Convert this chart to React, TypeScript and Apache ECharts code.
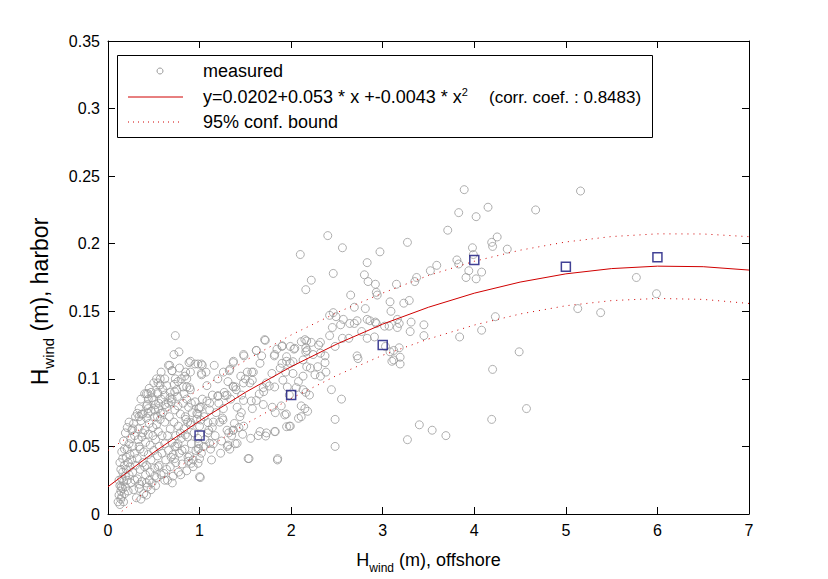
import React, { useEffect, useRef } from "react";
import * as echarts from "echarts";

const FONT = 'Arial, "Liberation Sans", Helvetica, sans-serif';

// Axis ranges / ticks
const xRange = [0, 7];
const yRange = [0, 0.35];
const xInterval = 1;
const yInterval = 0.05;

// Measured points: dense cloud near the origin (x < 1)
const measuredCluster: number[][] = [
  [0.11, 0.009], [0.12, 0.014], [0.13, 0.007], [0.13, 0.021], [0.14, 0.011], [0.14, 0.017], [0.15, 0.026], [0.15, 0.013],
  [0.16, 0.019], [0.16, 0.031], [0.17, 0.009], [0.17, 0.024], [0.18, 0.015], [0.18, 0.036], [0.19, 0.028], [0.19, 0.02],
  [0.2, 0.042], [0.2, 0.033], [0.21, 0.025], [0.21, 0.048], [0.22, 0.038], [0.22, 0.017], [0.23, 0.052], [0.23, 0.029],
  [0.24, 0.044], [0.24, 0.035], [0.25, 0.056], [0.25, 0.023], [0.26, 0.04], [0.26, 0.062], [0.27, 0.031], [0.27, 0.05],
  [0.28, 0.067], [0.28, 0.018], [0.29, 0.045], [0.29, 0.058], [0.3, 0.036], [0.3, 0.072], [0.12, 0.025], [0.14, 0.033],
  [0.16, 0.041], [0.18, 0.048], [0.13, 0.038], [0.15, 0.046], [0.17, 0.054], [0.19, 0.06], [0.21, 0.064], [0.23, 0.068],
  [0.31, 0.012], [0.32, 0.026], [0.32, 0.041], [0.33, 0.055], [0.33, 0.063], [0.34, 0.019], [0.34, 0.078], [0.35, 0.033],
  [0.35, 0.048], [0.36, 0.069], [0.36, 0.085], [0.37, 0.024], [0.37, 0.057], [0.38, 0.038], [0.38, 0.074], [0.39, 0.015],
  [0.39, 0.046], [0.4, 0.062], [0.4, 0.089], [0.41, 0.029], [0.41, 0.053], [0.42, 0.071], [0.42, 0.036], [0.43, 0.081],
  [0.43, 0.02], [0.44, 0.044], [0.44, 0.059], [0.45, 0.067], [0.45, 0.093], [0.46, 0.031], [0.46, 0.051], [0.47, 0.076],
  [0.47, 0.04], [0.48, 0.086], [0.48, 0.023], [0.49, 0.058], [0.49, 0.064], [0.5, 0.047], [0.5, 0.097], [0.51, 0.034],
  [0.51, 0.072], [0.52, 0.055], [0.52, 0.081], [0.53, 0.027], [0.53, 0.066], [0.54, 0.043], [0.54, 0.09], [0.55, 0.061],
  [0.55, 0.078], [0.56, 0.036], [0.56, 0.05], [0.57, 0.07], [0.57, 0.1], [0.58, 0.029], [0.58, 0.085], [0.59, 0.058],
  [0.59, 0.045], [0.6, 0.075], [0.6, 0.092], [0.36, 0.011], [0.42, 0.014], [0.47, 0.018], [0.52, 0.021], [0.34, 0.05],
  [0.38, 0.06], [0.44, 0.078], [0.5, 0.084], [0.54, 0.072], [0.4, 0.035], [0.45, 0.025],
  [0.44, 0.085], [0.47, 0.09], [0.53, 0.1], [0.58, 0.105], [0.62, 0.1], [0.64, 0.095], [0.66, 0.11], [0.7, 0.106],
  [0.72, 0.118], [0.78, 0.108], [0.8, 0.1], [0.82, 0.094], [0.86, 0.1], [0.9, 0.105], [0.68, 0.09], [0.62, 0.088],
  [0.75, 0.092], [0.7, 0.085], [0.66, 0.082],
  [0.61, 0.03], [0.62, 0.052], [0.62, 0.068], [0.63, 0.04], [0.64, 0.079], [0.65, 0.025], [0.65, 0.058], [0.66, 0.047],
  [0.67, 0.072], [0.68, 0.035], [0.68, 0.063], [0.69, 0.083], [0.7, 0.053], [0.71, 0.028], [0.71, 0.044], [0.72, 0.068],
  [0.73, 0.077], [0.74, 0.038], [0.74, 0.058], [0.75, 0.05], [0.76, 0.087], [0.77, 0.031], [0.77, 0.065], [0.78, 0.045],
  [0.79, 0.074], [0.8, 0.056], [0.81, 0.037], [0.82, 0.082], [0.83, 0.063], [0.84, 0.048], [0.85, 0.07], [0.86, 0.032],
  [0.87, 0.057], [0.88, 0.079], [0.89, 0.043], [0.9, 0.066], [0.91, 0.052], [0.92, 0.075], [0.93, 0.035], [0.94, 0.06],
  [0.95, 0.083], [0.96, 0.047], [0.97, 0.07], [0.98, 0.056], [0.99, 0.078], [0.64, 0.033], [0.69, 0.042], [0.73, 0.05],
  [0.79, 0.06], [0.87, 0.068],
];

// Measured points: 0.15 < x < 2.2
const measuredMid: number[][] = [
  [0.735, 0.132], [0.775, 0.12], [0.885, 0.112], [0.983, 0.111], [1.03, 0.11], [1.023, 0.103], [0.674, 0.11], [0.699, 0.106],
  [0.848, 0.105], [0.838, 0.102], [0.735, 0.1], [0.764, 0.098], [0.724, 0.096], [0.546, 0.097], [0.568, 0.0955], [0.437, 0.089],
  [0.42, 0.089], [0.546, 0.089], [0.859, 0.094], [0.83, 0.089], [0.892, 0.0935], [0.728, 0.0905], [0.677, 0.086], [0.859, 0.085],
  [0.422, 0.08], [0.553, 0.082], [0.622, 0.081], [0.764, 0.08], [0.575, 0.0745], [0.32, 0.0745], [0.339, 0.072], [0.364, 0.0738],
  [0.51, 0.077], [0.437, 0.0745], [0.27, 0.063], [0.844, 0.072], [0.906, 0.0676], [0.98, 0.0738], [1.016, 0.079], [1.081, 0.0836],
  [1.012, 0.0696], [1.092, 0.0676], [1.139, 0.064], [1.201, 0.0876], [1.278, 0.0876], [1.368, 0.112], [1.485, 0.117], [1.325, 0.106],
  [1.365, 0.0945], [1.394, 0.094], [1.521, 0.105], [1.587, 0.105], [1.619, 0.121], [1.678, 0.117], [1.718, 0.1285], [1.816, 0.117],
  [1.845, 0.122], [1.903, 0.1245], [1.991, 0.124], [2.031, 0.122], [2.111, 0.1275], [2.17, 0.128], [2.173, 0.121], [1.499, 0.1],
  [1.576, 0.099], [1.696, 0.0935], [1.761, 0.0947], [1.652, 0.0888], [1.565, 0.0836], [1.696, 0.081], [1.576, 0.078], [1.456, 0.075],
  [1.794, 0.079], [1.827, 0.075], [1.892, 0.08], [1.98, 0.088], [2.056, 0.0935], [1.958, 0.094], [1.482, 0.065], [1.365, 0.062],
  [1.256, 0.0696], [1.318, 0.06], [1.39, 0.052], [1.303, 0.05], [1.558, 0.056], [1.66, 0.061], [1.722, 0.0577], [1.827, 0.061],
  [1.54, 0.041], [1.853, 0.041], [1.947, 0.074], [1.991, 0.065], [0.99, 0.052], [0.983, 0.048], [1.045, 0.05], [0.874, 0.042],
  [0.91, 0.0375], [1.008, 0.027], [0.983, 0.0375], [0.794, 0.029], [0.702, 0.023], [0.619, 0.025], [0.728, 0.041], [0.808, 0.047],
  [0.877, 0.039], [1.092, 0.06], [1.15, 0.052], [0.844, 0.0585], [0.764, 0.052], [0.546, 0.035], [0.51, 0.028], [0.418, 0.023],
  [0.346, 0.022], [0.292, 0.025], [0.145, 0.02],
  [1.71, 0.129], [1.62, 0.121], [1.9, 0.124], [1.82, 0.118], [1.48, 0.118], [1.37, 0.113], [1.02, 0.111], [0.95, 0.111],
  [1.02, 0.104], [1.33, 0.107], [1.57, 0.105], [1.66, 0.1115], [1.79, 0.104], [1.88, 0.108], [1.95, 0.113], [1.55, 0.097],
  [1.48, 0.097], [1.37, 0.094], [1.3, 0.088], [1.2, 0.087], [1.11, 0.082], [1.0, 0.079], [0.97, 0.0745], [1.11, 0.077],
  [1.26, 0.078], [1.41, 0.079], [1.48, 0.084], [1.62, 0.084], [1.7, 0.0905], [1.73, 0.097], [1.82, 0.094], [1.91, 0.099],
  [0.9, 0.113], [0.9, 0.092], [0.91, 0.082], [1.22, 0.068], [1.37, 0.062], [1.64, 0.058], [1.53, 0.041], [1.85, 0.04],
  [1.0, 0.0276], [1.0, 0.041], [0.93, 0.04], [0.99, 0.0486], [1.11, 0.0523], [1.31, 0.051], [1.41, 0.0523], [1.73, 0.06],
  [1.82, 0.061], [1.95, 0.0646], [1.95, 0.1164], [1.9, 0.1115], [1.99, 0.1115], [2.02, 0.1127], [2.04, 0.1226], [1.94, 0.105],
  [2.02, 0.104], [2.08, 0.098], [1.93, 0.0733], [2.08, 0.0708], [1.98, 0.065],
  [1.0, 0.065], [1.02, 0.045], [1.03, 0.085], [1.05, 0.072], [1.06, 0.055], [1.08, 0.095], [1.1, 0.062], [1.12, 0.048],
  [1.14, 0.088], [1.15, 0.068], [1.17, 0.058], [1.18, 0.075], [1.2, 0.1], [1.21, 0.082], [1.24, 0.054], [1.25, 0.071],
  [1.27, 0.09], [1.3, 0.062], [1.31, 0.098], [1.34, 0.085], [1.35, 0.058], [1.38, 0.067], [1.4, 0.092], [1.43, 0.064],
  [1.44, 0.072], [1.46, 0.088], [1.47, 0.059], [1.07, 0.105], [1.16, 0.11], [1.26, 0.105], [1.45, 0.102], [1.13, 0.04],
  [1.23, 0.045], [1.33, 0.048],
];

// Measured points: x > 2.1
const measuredUpper: number[][] = [
  [3.89, 0.24], [5.16, 0.239], [4.67, 0.225], [4.15, 0.227], [3.83, 0.223], [4.02, 0.22], [3.71, 0.21], [2.4, 0.206],
  [2.56, 0.197], [3.27, 0.201], [2.97, 0.194], [2.83, 0.186], [2.46, 0.178], [2.22, 0.173], [2.16, 0.166], [2.1, 0.192],
  [3.98, 0.197], [3.99, 0.192], [4.19, 0.201], [4.2, 0.198], [4.25, 0.205], [4.36, 0.196], [3.81, 0.188], [3.83, 0.185],
  [3.94, 0.18], [4.08, 0.179], [3.91, 0.175], [4.02, 0.174], [3.59, 0.184], [3.52, 0.18], [3.37, 0.175], [3.35, 0.172],
  [3.15, 0.17], [2.8, 0.177], [2.84, 0.172], [2.92, 0.17], [2.93, 0.164], [2.94, 0.162], [2.65, 0.162], [2.69, 0.153],
  [2.81, 0.152], [3.08, 0.157], [3.09, 0.15], [3.23, 0.156], [3.29, 0.158], [2.42, 0.147], [2.46, 0.149], [2.49, 0.146],
  [2.57, 0.144], [2.54, 0.14], [2.64, 0.141], [2.69, 0.141], [2.72, 0.143], [2.83, 0.144], [2.86, 0.143], [2.92, 0.142],
  [2.93, 0.141], [3.02, 0.139], [3.07, 0.139], [3.16, 0.138], [3.16, 0.144], [3.18, 0.141], [3.31, 0.142], [3.3, 0.135],
  [3.45, 0.14], [3.45, 0.132], [2.77, 0.135], [2.91, 0.131], [2.83, 0.13], [2.45, 0.138], [2.42, 0.132], [2.56, 0.13],
  [2.48, 0.124], [2.63, 0.13], [2.15, 0.129], [2.22, 0.127], [2.32, 0.127], [2.3, 0.125], [2.16, 0.123], [2.16, 0.12],
  [2.24, 0.118], [2.32, 0.119], [2.37, 0.117], [2.37, 0.112], [2.13, 0.114], [2.17, 0.109], [2.29, 0.109], [2.21, 0.108],
  [2.26, 0.103], [2.32, 0.102], [2.38, 0.105], [2.13, 0.102], [2.72, 0.117], [2.73, 0.115], [3.03, 0.124], [3.08, 0.12],
  [3.12, 0.121], [3.18, 0.123], [3.19, 0.116], [3.12, 0.114], [3.1, 0.113], [3.19, 0.111], [3.84, 0.131], [4.08, 0.136],
  [4.23, 0.146], [4.49, 0.12], [4.2, 0.107], [4.57, 0.078], [4.19, 0.07], [5.13, 0.152], [5.38, 0.149], [5.77, 0.175],
  [5.99, 0.163], [2.44, 0.092], [2.55, 0.085], [2.48, 0.07], [2.48, 0.05], [3.4, 0.066], [3.54, 0.062], [3.69, 0.058],
  [3.27, 0.055], [2.13, 0.092], [2.16, 0.09], [2.2, 0.088], [2.11, 0.08], [2.15, 0.078], [2.18, 0.076], [2.11, 0.072],
];

// Fitted curve and 95% confidence bounds (read at 0.5 steps)
const fitX = [0, 0.5, 1, 1.5, 2, 2.5, 3, 3.5, 4, 4.5, 5, 5.5, 6, 6.5, 7];
const fitY = [0.0202, 0.0456, 0.0689, 0.09, 0.109, 0.1258, 0.1405, 0.153, 0.1634, 0.1716, 0.1777, 0.1816, 0.1834, 0.183, 0.1805];
const upperY = [0.047, 0.0695, 0.0925, 0.1135, 0.1325, 0.149, 0.1635, 0.1765, 0.187, 0.1952, 0.2013, 0.2053, 0.2073, 0.2072, 0.2052];
const lowerY = [-0.0066, 0.0217, 0.0453, 0.0665, 0.0855, 0.1026, 0.1175, 0.1295, 0.1398, 0.148, 0.1541, 0.1579, 0.1595, 0.1588, 0.1558];

// Binned means (blue squares)
const binX = [1, 2, 3, 4, 5, 6];
const binY = [0.058, 0.088, 0.125, 0.188, 0.183, 0.19];

// Legend texts
const legendMeasured = "measured";
const legendFit = "y=0.0202+0.053 * x +-0.0043 * x";
const legendCorr = "(corr. coef. : 0.8483)";
const legendBound = "95% conf. bound";

const RED = "#d00000";
const GREY = "#9a9a9a";
const NAVY = "#12127a";

function zip(xs: number[], ys: number[]) {
  return xs.map((x, i) => [x, ys[i]]);
}

export default function App() {
  const ref = useRef<HTMLDivElement>(null);

  useEffect(() => {
    if (!ref.current) return;
    const chart = echarts.init(ref.current, null, { renderer: "svg" });

    const axisCommon = {
      type: "value" as const,
      splitLine: { show: false },
      axisLine: { show: true, onZero: false, lineStyle: { color: "#000", width: 1 } },
      axisTick: { show: true, inside: true, length: 7, lineStyle: { color: "#000", width: 1 } },
    };

    const xNameRich = {
      a: { fontSize: 18, fontFamily: FONT, color: "#000", lineHeight: 28 },
      s: { fontSize: 12, fontFamily: FONT, color: "#000", verticalAlign: "bottom" as const },
    };
    const yNameRich = {
      a: { fontSize: 23, fontFamily: FONT, color: "#000", lineHeight: 32 },
      s: { fontSize: 15, fontFamily: FONT, color: "#000", verticalAlign: "bottom" as const },
    };

    const option: any = {
      animation: false,
      backgroundColor: "#fff",
      grid: { left: 108, right: 79, top: 41, bottom: 65, containLabel: false },
      xAxis: [
        {
          ...axisCommon,
          min: xRange[0],
          max: xRange[1],
          interval: xInterval,
          position: "bottom",
          axisLabel: { color: "#000", fontSize: 16, fontFamily: FONT, margin: 8 },
          name: "{a|H}{s|wind}{a| (m), offshore}",
          nameLocation: "middle",
          nameGap: 32,
          nameTextStyle: { rich: xNameRich },
        },
        {
          ...axisCommon,
          min: xRange[0],
          max: xRange[1],
          interval: xInterval,
          position: "top",
          axisLabel: { show: false },
        },
      ],
      yAxis: [
        {
          ...axisCommon,
          min: yRange[0],
          max: yRange[1],
          interval: yInterval,
          position: "left",
          axisLabel: { color: "#000", fontSize: 16, fontFamily: FONT, margin: 8 },
          name: "{a|H}{s|wind}{a| (m), harbor}",
          nameLocation: "middle",
          nameGap: 52,
          nameRotate: 90,
          nameTextStyle: { rich: yNameRich, padding: [0, 48, 0, 0] },
        },
        {
          ...axisCommon,
          min: yRange[0],
          max: yRange[1],
          interval: yInterval,
          position: "right",
          axisLabel: { show: false },
        },
      ],
      series: [
        {
          type: "scatter",
          name: "measured",
          data: [...measuredCluster, ...measuredMid, ...measuredUpper],
          symbol: "circle",
          symbolSize: 8,
          itemStyle: { color: "rgba(0,0,0,0)", borderColor: GREY, borderWidth: 1 },
          silent: true,
          z: 2,
        },
        {
          type: "line",
          name: "fit",
          data: zip(fitX, fitY),
          symbol: "none",
          lineStyle: { color: RED, width: 1 },
          silent: true,
          z: 3,
        },
        {
          type: "line",
          name: "upper",
          data: zip(fitX, upperY),
          symbol: "none",
          lineStyle: { color: RED, width: 1, type: [1, 5] },
          silent: true,
          z: 3,
        },
        {
          type: "line",
          name: "lower",
          data: zip(fitX, lowerY),
          symbol: "none",
          lineStyle: { color: RED, width: 1, type: [1, 5] },
          silent: true,
          z: 3,
        },
        {
          type: "scatter",
          name: "bins",
          data: zip(binX, binY),
          symbol: "rect",
          symbolSize: 9,
          itemStyle: { color: "rgba(0,0,0,0)", borderColor: NAVY, borderWidth: 1.5 },
          silent: true,
          z: 4,
        },
      ],
      graphic: [
        {
          type: "group",
          z: 100,
          children: [
            {
              type: "rect",
              shape: { x: 117.5, y: 55.5, width: 535, height: 82 },
              style: { fill: "#fff", stroke: "#000", lineWidth: 1 },
            },
            {
              type: "circle",
              shape: { cx: 160, cy: 71, r: 3 },
              style: { fill: "none", stroke: GREY, lineWidth: 1 },
            },
            {
              type: "line",
              shape: { x1: 128, y1: 97, x2: 183, y2: 97 },
              style: { stroke: RED, lineWidth: 1 },
            },
            {
              type: "line",
              shape: { x1: 128, y1: 122, x2: 183, y2: 122 },
              style: { stroke: RED, lineWidth: 1, lineDash: [1, 4] },
            },
            {
              type: "text",
              x: 203,
              y: 71,
              style: { text: legendMeasured, fontSize: 18, fontFamily: FONT, fill: "#000", verticalAlign: "middle" },
            },
            {
              type: "text",
              x: 203,
              y: 97,
              style: {
                text: "{a|" + legendFit + "}{s|2}",
                verticalAlign: "middle",
                rich: {
                  a: { fontSize: 18, fontFamily: FONT, fill: "#000", lineHeight: 22 },
                  s: { fontSize: 11, fontFamily: FONT, fill: "#000", verticalAlign: "top" },
                },
              },
            },
            {
              type: "text",
              x: 489,
              y: 97,
              style: { text: legendCorr, fontSize: 17, fontFamily: FONT, fill: "#000", verticalAlign: "middle" },
            },
            {
              type: "text",
              x: 203,
              y: 122,
              style: { text: legendBound, fontSize: 18, fontFamily: FONT, fill: "#000", verticalAlign: "middle" },
            },
          ],
        },
      ],
    };

    chart.setOption(option);
    return () => chart.dispose();
  }, []);

  return (
    <div
      ref={ref}
      style={{ position: "absolute", left: 0, top: 0, width: 828, height: 579, background: "#fff" }}
    />
  );
}
